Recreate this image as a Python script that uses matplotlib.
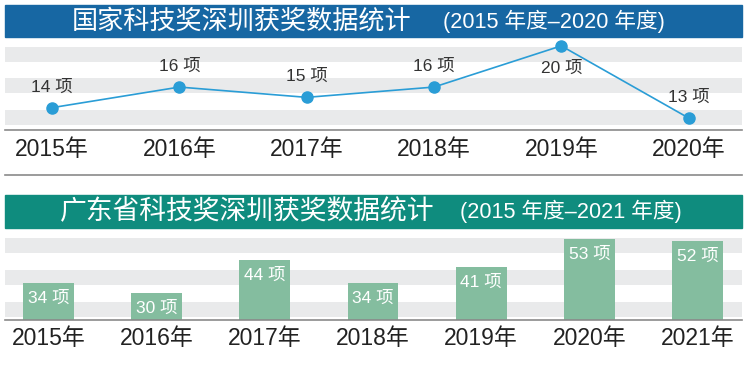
import matplotlib.pyplot as plt
from matplotlib.patches import Rectangle
from matplotlib.lines import Line2D

# national award counts (line chart)
nat_years = ['2015年', '2016年', '2017年', '2018年', '2019年', '2020年']
nat_counts = [14, 16, 15, 16, 20, 13]
nat_title = '国家科技奖深圳获奖数据统计'
nat_sub = '(2015 年度–2020 年度)'

# provincial award counts (bar chart)
prov_years = ['2015年', '2016年', '2017年', '2018年', '2019年', '2020年', '2021年']
prov_counts = [34, 30, 44, 34, 41, 53, 52]
prov_title = '广东省科技奖深圳获奖数据统计'
prov_sub = '(2015 年度–2021 年度)'

FONT = ['Liberation Sans', 'Noto Sans CJK SC', 'DejaVu Sans']
plt.rcParams['font.family'] = FONT

W, H = 750, 369
BLUE = '#1767a3'
TEAL = '#0f8c7e'
LINE = '#2a9dd6'
BAR = '#84bd9f'
STRIPE = '#e9eaeb'
AXIS = '#8a8a8a'


def box(x0, y0, x1, y1):
    '''pixel box (top-left origin) -> figure fraction rect'''
    return [x0 / W, 1 - y1 / H, (x1 - x0) / W, (y1 - y0) / H]


def banner(fig, y0, y1, color, title, sub, tx, sx, tsize):
    fig.add_artist(Rectangle((5 / W, 1 - y1 / H), 737 / W, (y1 - y0) / H,
                             color=color, transform=fig.transFigure, zorder=0))
    yc = 1 - (y0 + y1) / 2 / H
    fig.text(tx / W, yc, title, color='white', fontsize=tsize,
             family=['Noto Sans CJK SC'], va='center', ha='left')
    fig.text(sx / W, yc, sub, color='white', fontsize=15.6,
             va='center', ha='left')


def stripes(ax, bands):
    for lo, hi in bands:
        ax.add_patch(Rectangle((0, lo), 1, hi - lo, transform=ax.transAxes,
                               color=STRIPE, lw=0, zorder=0))


def style_axis(ax):
    for s in ['top', 'left', 'right']:
        ax.spines[s].set_visible(False)
    ax.spines['bottom'].set_color(AXIS)
    ax.spines['bottom'].set_linewidth(1.2)
    ax.set_yticks([])
    ax.tick_params(axis='x', length=0, labelsize=16.5, labelcolor='#222222')
    ax.patch.set_alpha(0)


fig = plt.figure(figsize=(7.5, 3.69), dpi=100)

# ---- top: line chart ----
banner(fig, 5, 37, BLUE, nat_title, nat_sub, 72, 443, 18.8)
ax1 = fig.add_axes(box(5, 40, 742, 130))
style_axis(ax1)
stripes(ax1, [(0.056, 0.222), (0.411, 0.578), (0.756, 0.922)])
xs = list(range(len(nat_counts)))
ax1.plot(xs, nat_counts, color=LINE, lw=1.2, marker='o', ms=8,
         mfc=LINE, mec=LINE, clip_on=False, zorder=3)
for x, v in zip(xs, nat_counts):
    below = v == max(nat_counts)
    ax1.annotate(f'{v} 项', (x, v), xytext=(0, -16 if below else 15),
                 textcoords='offset points', ha='center', va='center',
                 fontsize=12.5, color='#333333')
ax1.set_xlim(-0.37, 5.42)
ax1.set_ylim(11.83, 20.57)
ax1.set_xticks(xs)
ax1.set_xticklabels(nat_years)
ax1.tick_params(axis='x', pad=6)
fig.add_artist(Line2D([5 / W, 742 / W], [1 - 175 / H, 1 - 175 / H],
                      color=AXIS, lw=1.2, transform=fig.transFigure))

# ---- bottom: bar chart ----
banner(fig, 195, 228, TEAL, prov_title, prov_sub, 60, 460, 19.3)
ax2 = fig.add_axes(box(5, 232, 742, 320))
style_axis(ax2)
stripes(ax2, [(0.034, 0.205), (0.398, 0.568), (0.761, 0.932)])
xb = list(range(len(prov_counts)))
ax2.bar(xb, prov_counts, width=0.47, color=BAR, zorder=2)
for x, v in zip(xb, prov_counts):
    ax2.annotate(f'{v} 项', (x, v), xytext=(0, -11),
                 textcoords='offset points', ha='center', va='center',
                 fontsize=12.5, color='white', zorder=3)
ax2.set_xlim(-0.4, 6.41)
ax2.set_ylim(18.5, 55.8)
ax2.set_xticks(xb)
ax2.set_xticklabels(prov_years)
ax2.tick_params(axis='x', pad=5)

fig.savefig('out.png', dpi=100)
